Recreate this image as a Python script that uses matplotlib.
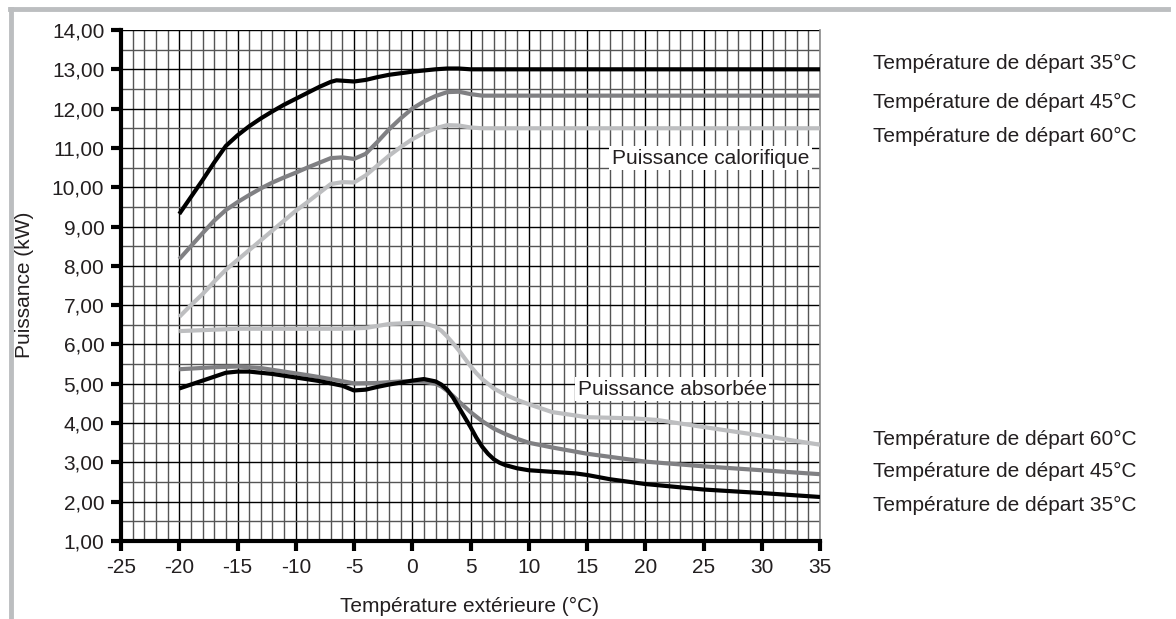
import matplotlib
matplotlib.use("Agg")
import matplotlib.pyplot as plt
from matplotlib.ticker import MultipleLocator, FuncFormatter
from matplotlib.lines import Line2D

plt.rcParams['font.family'] = ['Liberation Sans', 'DejaVu Sans']
plt.rcParams['axes.unicode_minus'] = False

# Puissance calorifique (kW)
cal35_x = [-20, -19, -18, -17, -16, -15, -14, -13, -12, -11, -10, -9, -8, -7, -6.5, -6, -5, -4, -3, -2, -1, 0, 1, 2, 3, 4, 5, 10, 20, 35]
cal35_y = [9.32, 9.75, 10.18, 10.63, 11.05, 11.32, 11.55, 11.75, 11.93, 12.1, 12.25, 12.4, 12.55, 12.68, 12.72, 12.71, 12.69, 12.73, 12.8, 12.86, 12.9, 12.94, 12.97, 13.0, 13.02, 13.02, 13.0, 13.0, 13.0, 13.0]

cal45_x = [-20, -19, -18, -17, -16, -15, -14, -13, -12, -11, -10, -9, -8, -7, -6, -5, -4, -3, -2, -1, 0, 1, 2, 3, 4, 5, 6, 10, 35]
cal45_y = [8.17, 8.5, 8.83, 9.15, 9.42, 9.62, 9.8, 9.97, 10.12, 10.25, 10.37, 10.5, 10.62, 10.74, 10.76, 10.72, 10.85, 11.15, 11.47, 11.75, 12.0, 12.18, 12.32, 12.42, 12.43, 12.37, 12.33, 12.33, 12.33]

cal60_x = [-20, -19, -18, -17, -16, -15, -14, -13, -12, -11, -10, -9, -8, -7, -6, -5, -4, -3, -2, -1, 0, 1, 2, 3, 4, 5, 6, 10, 35]
cal60_y = [6.7, 7.0, 7.28, 7.6, 7.9, 8.15, 8.4, 8.65, 8.9, 9.15, 9.4, 9.62, 9.85, 10.08, 10.13, 10.12, 10.3, 10.55, 10.8, 11.02, 11.22, 11.38, 11.5, 11.58, 11.57, 11.52, 11.5, 11.5, 11.5]

# Puissance absorbée (kW)
abs60_x = [-20, -15, -10, -6, -4, -2, 0, 1, 2, 2.5, 3, 3.5, 4, 4.5, 5, 5.5, 6, 7, 8, 9, 10, 12, 15, 19, 21, 25, 30, 35]
abs60_y = [6.34, 6.4, 6.4, 6.4, 6.42, 6.52, 6.55, 6.54, 6.45, 6.35, 6.2, 6.03, 5.85, 5.65, 5.45, 5.27, 5.12, 4.88, 4.72, 4.59, 4.48, 4.28, 4.15, 4.12, 4.08, 3.9, 3.68, 3.45]

abs45_x = [-20, -17, -15, -13, -11, -9, -7, -5, -3, -1, 1, 2, 2.5, 3, 3.5, 4, 5, 6, 7, 8, 9, 10, 12, 15, 20, 25, 30, 35]
abs45_y = [5.37, 5.42, 5.44, 5.4, 5.31, 5.22, 5.12, 5.01, 5.02, 5.06, 5.05, 5.0, 4.93, 4.82, 4.69, 4.55, 4.28, 4.05, 3.86, 3.72, 3.6, 3.5, 3.38, 3.22, 3.02, 2.9, 2.8, 2.7]

abs35_x = [-20, -18, -16, -15, -14, -12, -10, -8, -6, -5, -4, -3, -2, 0, 1, 2, 2.5, 3, 3.5, 4, 4.5, 5, 5.5, 6, 6.5, 7, 7.5, 8, 9, 10, 12, 14, 15, 17, 20, 25, 30, 35]
abs35_y = [4.88, 5.08, 5.28, 5.31, 5.31, 5.25, 5.16, 5.07, 4.95, 4.83, 4.85, 4.92, 4.98, 5.08, 5.12, 5.06, 4.98, 4.85, 4.65, 4.4, 4.15, 3.9, 3.63, 3.4, 3.22, 3.08, 2.99, 2.93, 2.85, 2.8, 2.76, 2.72, 2.68, 2.57, 2.45, 2.31, 2.22, 2.12]

labels_top = ["Température de départ 35°C", "Température de départ 45°C", "Température de départ 60°C"]
labels_bottom = ["Température de départ 60°C", "Température de départ 45°C", "Température de départ 35°C"]

BLACK = "#000000"
MID = "#808083"
LIGHT = "#bdbec0"
TXT = "#231f20"
FS = 15
W, H = 1176, 619

fig = plt.figure(figsize=(W / 100, H / 100), dpi=100)
ax = fig.add_axes([121 / W, 1 - 541 / H, 699 / W, 511 / H])

ax.set_xlim(-25, 35)
ax.set_ylim(1, 14)
ax.xaxis.set_major_locator(MultipleLocator(5))
ax.xaxis.set_minor_locator(MultipleLocator(1))
ax.yaxis.set_major_locator(MultipleLocator(1))
ax.yaxis.set_minor_locator(MultipleLocator(0.5))
ax.yaxis.set_major_formatter(FuncFormatter(lambda v, p: f"{v:.2f}".replace(".", ",")))

ax.grid(which="major", color="#000000", lw=1.0)
ax.grid(which="minor", color="#555555", lw=1.0)
ax.set_axisbelow(True)

ax.spines["top"].set_visible(False)
ax.spines["right"].set_color("#8a8a8a")
ax.spines["right"].set_linewidth(1.2)
ax.spines["left"].set_linewidth(3)
ax.spines["bottom"].set_linewidth(3)
ax.tick_params(which="major", direction="out", length=7, width=3, labelsize=FS,
               labelcolor=TXT, pad=5)
ax.tick_params(which="minor", length=0)

for xs, ys, c in [(cal60_x, cal60_y, LIGHT), (cal45_x, cal45_y, MID), (cal35_x, cal35_y, BLACK),
                  (abs60_x, abs60_y, LIGHT), (abs45_x, abs45_y, MID), (abs35_x, abs35_y, BLACK)]:
    ax.plot(xs, ys, color=c, lw=3, solid_joinstyle="round", solid_capstyle="butt", zorder=3)

box = dict(facecolor="white", edgecolor="none", pad=2.0)
ax.text(25.6, 10.74, "Puissance calorifique", ha="center", va="center", fontsize=FS,
        color=TXT, bbox=box, zorder=4)
ax.text(22.3, 4.86, "Puissance absorbée", ha="center", va="center", fontsize=FS,
        color=TXT, bbox=box, zorder=4)

# axis titles
fig.text(470 / W, 1 - 606 / H, "Température extérieure (°C)", ha="center", va="center",
         fontsize=FS, color=TXT)
fig.text(25 / W, 1 - 285 / H, "Puissance (kW)", ha="center", va="center", rotation=90,
         fontsize=FS, color=TXT)

for lbl, yp in zip(labels_top, [63, 102, 136]):
    fig.text(873 / W, 1 - yp / H, lbl, ha="left", va="center", fontsize=FS, color=TXT)
for lbl, yp in zip(labels_bottom, [439, 471, 505]):
    fig.text(873 / W, 1 - yp / H, lbl, ha="left", va="center", fontsize=FS, color=TXT)

# light grey frame around the figure (top and left edges)
fig.add_artist(Line2D([10 / W, 1168 / W], [1 - 9 / H, 1 - 9 / H], color="#bcbec0", lw=3.5))
fig.add_artist(Line2D([11 / W, 11 / W], [0, 1 - 9 / H], color="#bcbec0", lw=3.5))

fig.savefig("out.png", dpi=100)
